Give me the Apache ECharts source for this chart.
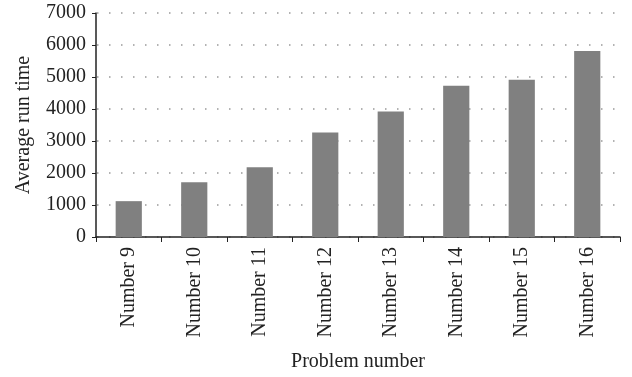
<!DOCTYPE html>
<html>
<head>
<meta charset="utf-8">
<script src="https://cdn.jsdelivr.net/npm/echarts@6/dist/echarts.min.js"></script>
<style>
  html, body { margin: 0; padding: 0; background: #fff; }
  #chart { width: 632px; height: 377px; }
</style>
</head>
<body>
<div id="chart"></div>
<script>
  // data
  var categories = ['Number 9', 'Number 10', 'Number 11', 'Number 12',
                    'Number 13', 'Number 14', 'Number 15', 'Number 16'];
  var runTimes = [1120, 1710, 2180, 3265, 3920, 4725, 4915, 5815];
  var yMin = 0, yMax = 7000, yStep = 1000;

  var font = '"Liberation Serif", "DejaVu Serif", serif';
  var chart = echarts.init(document.getElementById('chart'));

  chart.setOption({
    animation: false,
    grid: { left: 96, right: 12, top: 13, bottom: 139 },
    xAxis: {
      type: 'category',
      data: categories,
      name: 'Problem number',
      nameLocation: 'middle',
      nameGap: 115,
      nameTextStyle: { fontFamily: font, fontSize: 20, color: '#222' },
      axisLine: { lineStyle: { color: '#222', width: 1.5 } },
      axisTick: { show: true, length: 5, lineStyle: { color: '#222' } },
      axisLabel: {
        rotate: 90,
        margin: 10,
        fontFamily: font,
        fontSize: 20,
        color: '#222'
      }
    },
    yAxis: {
      type: 'value',
      min: yMin,
      max: yMax,
      interval: yStep,
      name: 'Average run time',
      nameLocation: 'middle',
      nameGap: 62,
      nameTextStyle: { fontFamily: font, fontSize: 20, color: '#222' },
      axisLine: { show: true, lineStyle: { color: '#222', width: 1.5 } },
      axisTick: { show: true, length: 4, lineStyle: { color: '#222' } },
      axisLabel: {
        margin: 10,
        fontFamily: font,
        fontSize: 20,
        color: '#222',
        formatter: function (v) { return String(v); }
      },
      splitLine: {
        show: true,
        lineStyle: { color: '#999', width: 1.5, type: [1.5, 10.5], dashOffset: -1 }
      }
    },
    series: [{
      type: 'bar',
      data: runTimes,
      barWidth: '40%',
      itemStyle: { color: '#808080' }
    }]
  });
</script>
</body>
</html>
